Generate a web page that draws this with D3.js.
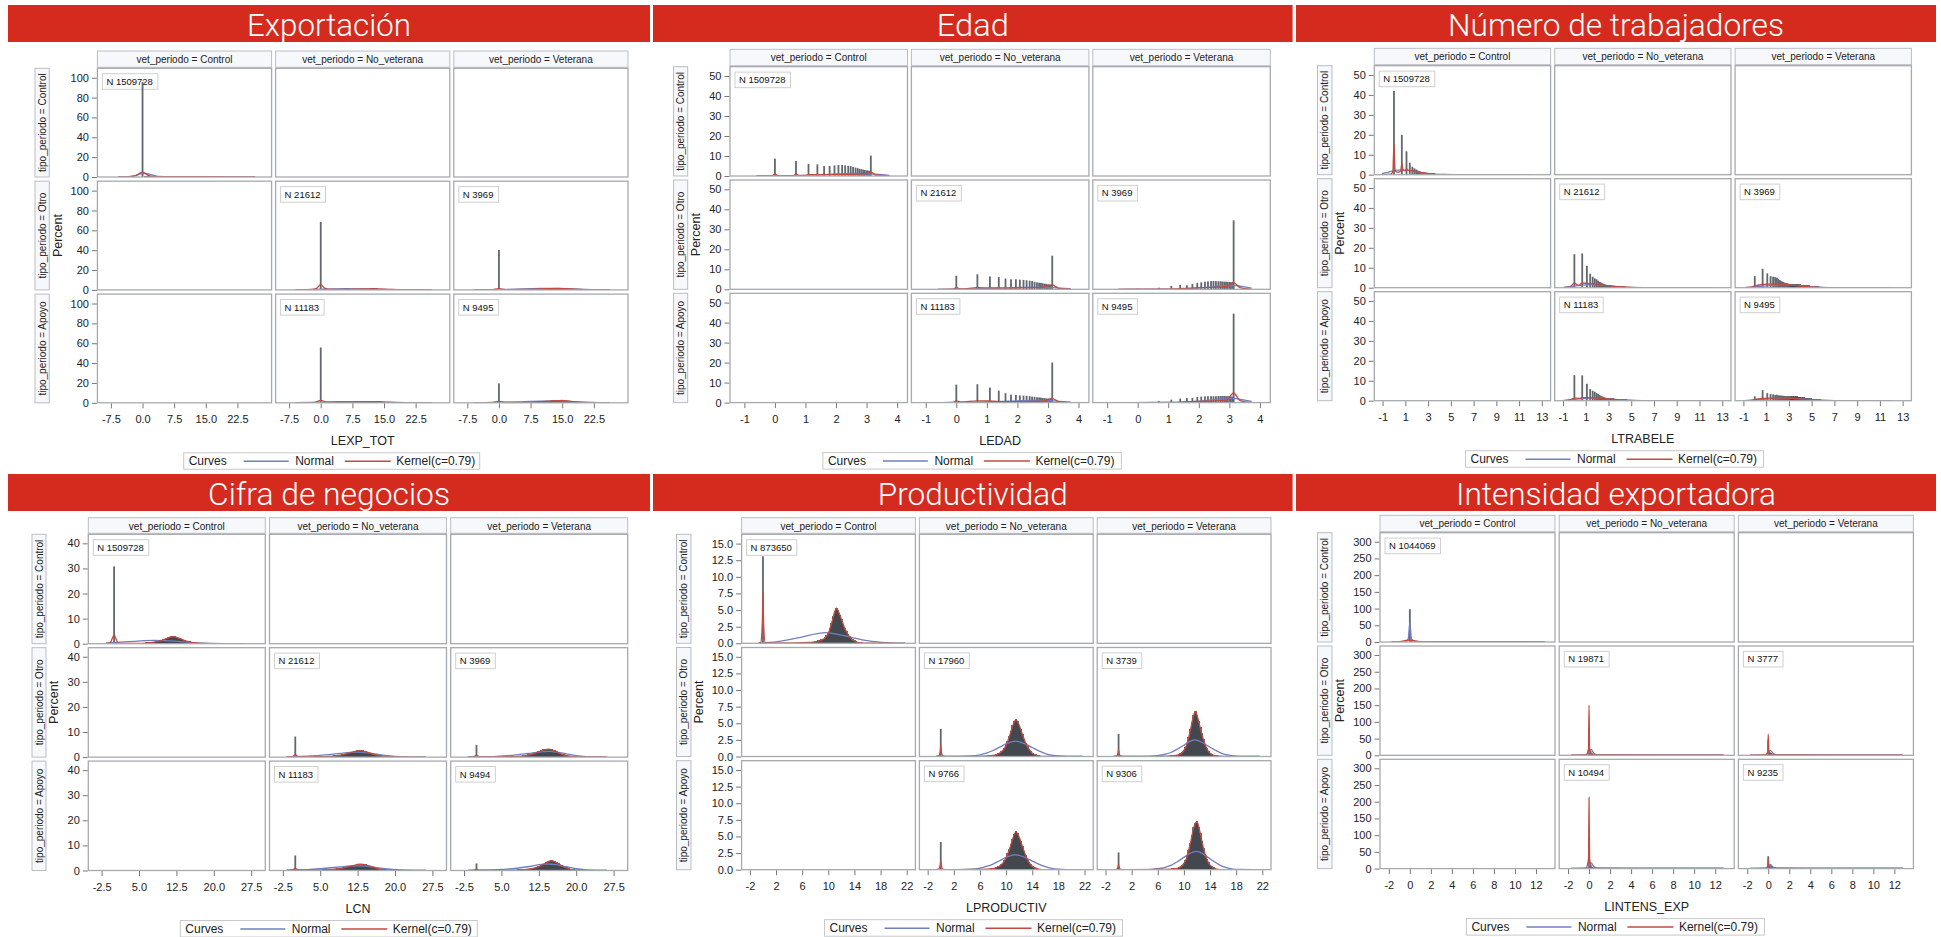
<!DOCTYPE html>
<html><head><meta charset="utf-8">
<script src="https://cdn.jsdelivr.net/npm/d3@7"></script>
<style>
body{margin:0;background:#fff;}
text{font-family:"Liberation Sans",Arial,sans-serif;}
</style>
</head><body>
<svg id="c" width="1941" height="937"></svg>
<script>
// ---------- shared categories ----------
const rowCats = ["Control", "Otro", "Apoyo"];
const colCats = ["Control", "No_veterana", "Veterana"];
const filledCells = [[0,0],[1,1],[1,2],[2,1],[2,2]]; // [row, col]
const legendItems = ["Normal", "Kernel(c=0.79)"];

// ---------- Exportación ----------
const expTitle = "Exportación", expVar = "LEXP_TOT";
const expN = [1509728, 21612, 3969, 11183, 9495];
const expXDomain = [-10.7, 30.6], expYMax = 109.5;
const expXTicks = [-7.5, 0, 7.5, 15, 22.5];
const expYTicks = [0, 20, 40, 60, 80, 100];
const expSpikes = [[[0,95.5]],[[0,68.5]],[[0,40.3]],[[0,55.7]],[[0,19.5]]];
const expBinStart = 1, expBinWidth = 1;
const expBins = [
  [0.4,0.3,0.3,0.2,0.2,0.2,0.2,0.2,0.2,0.2,0.2,0.2,0.1,0.1,0.1],
  [0.5,0.4,0.4,0.4,0.4,0.4,0.5,0.6,0.7,0.8,0.9,1.0,1.0,0.9,0.7,0.5,0.3,0.2,0.1],
  [0.2,0.2,0.2,0.2,0.2,0.3,0.4,0.5,0.7,0.9,1.1,1.3,1.5,1.6,1.4,1.0,0.6,0.3,0.1],
  [0.4,0.4,0.4,0.4,0.4,0.5,0.6,0.7,0.8,0.9,1.0,1.0,1.0,0.9,0.7,0.5,0.3,0.2,0.1],
  [0.2,0.2,0.2,0.3,0.3,0.4,0.5,0.7,0.9,1.1,1.4,1.7,2.0,2.2,2.1,1.6,1.0,0.5,0.2]
];
const expNormal = [
  [[-5.8,0],[-4,0.2],[-2,1.3],[-1,2.5],[0,3.5],[1,3.3],[2,2.4],[3,1.3],[4,0.5],[6,0.05],[10,0],[26.7,0]],
  [[-6,0.05],[-3,0.3],[0,0.7],[3,1.0],[6,1.2],[9,1.1],[12,0.8],[15,0.45],[18,0.2],[21,0.08],[26.3,0.01]],
  [[-6,0.03],[-2,0.2],[2,0.6],[6,1.1],[10,1.4],[13,1.5],[16,1.2],[19,0.7],[22,0.3],[26.2,0.05]],
  [[-6,0.05],[-3,0.3],[0,0.7],[3,1.0],[6,1.2],[9,1.2],[12,0.9],[15,0.5],[18,0.2],[21,0.08],[26.3,0.01]],
  [[-6,0.03],[-2,0.2],[2,0.6],[6,1.1],[10,1.6],[13,1.9],[16,1.6],[19,0.9],[22,0.35],[26.2,0.05]]
];
const expKernel = [
  [[-5.8,0],[-3,0.2],[-1.5,1.5],[0,5.0],[1.5,1.5],[3,0.4],[6,0.3],[10,0.3],[15,0.3],[20,0.2],[26.7,0.1]],
  [[-6,0],[-2,0.4],[-1,1.5],[0,5.3],[1,1.5],[2,0.5],[6,0.5],[10,0.9],[13,1.0],[16,0.6],[20,0.2],[26.3,0.05]],
  [[-6,0],[-1.5,0.3],[0,1.2],[1.5,0.3],[6,0.4],[10,1.0],[14,1.6],[17,0.9],[20,0.3],[26.2,0.05]],
  [[-6,0],[-1.5,0.5],[0,2.5],[1.5,0.6],[5,0.6],[10,0.9],[13,1.1],[16,0.6],[20,0.2],[26.3,0.05]],
  [[-6,0],[-1.5,0.3],[0,1.3],[1.5,0.3],[6,0.4],[10,1.2],[14,2.2],[15,2.4],[17,1.5],[20,0.4],[26.2,0.05]]
];

// ---------- Edad ----------
const edadTitle = "Edad", edadVar = "LEDAD";
const edadN = [1509728, 21612, 3969, 11183, 9495];
const edadXDomain = [-1.47, 4.34], edadYMax = 54.65;
const edadXTicks = [-1, 0, 1, 2, 3, 4];
const edadYTicks = [0, 10, 20, 30, 40, 50];
const edadSpikeX = [0,0.69,1.1,1.39,1.61,1.79,1.95,2.08,2.2,2.3,2.4,2.48,2.56,2.64,2.71,2.77,2.83,2.89,2.94,3.0,3.04,3.09,3.14];
const edadSpikeH = [
  [8.7,7.5,6.1,5.8,5.0,5.0,5.3,5.5,5.5,5.3,5.1,4.9,4.6,4.2,3.9,3.6,3.4,3.2,3.0,2.8,2.7,2.6,10.2],
  [6.8,7.5,6.4,6.1,5.4,5.0,5.0,4.8,4.7,4.5,4.3,4.1,3.8,3.5,3.3,3.2,3.0,2.8,2.7,2.5,2.4,2.3,16.8],
  [0.3,0.8,1.7,2.2,2.0,2.7,3.2,3.5,3.8,4.0,4.1,4.2,4.1,4.0,4.0,3.9,3.8,3.8,3.7,3.7,3.6,3.5,34.5],
  [9.0,9.2,7.5,6.0,4.7,4.0,3.8,3.6,3.5,3.4,3.2,3.0,2.9,2.7,2.6,2.5,2.3,2.2,2.1,2.0,1.9,1.8,20.0],
  [0.2,0.8,1.5,2.0,2.3,2.3,2.8,3.0,3.1,3.2,3.2,3.2,3.2,3.3,3.3,3.3,3.3,3.2,3.2,3.2,3.1,3.0,44.5]
];
const edadNormal = [
  [[-0.6,0],[0.5,0.1],[1,0.3],[1.5,0.6],[2,1.0],[2.5,1.3],[3,1.2],[3.3,0.9],[3.75,0.3]],
  [[-0.6,0],[0.5,0.15],[1,0.35],[1.5,0.6],[2,0.9],[2.5,1.1],[3,1.0],[3.4,0.6],[3.75,0.2]],
  [[-0.64,0],[1,0.05],[1.5,0.2],[2,0.6],[2.5,1.3],[3,1.9],[3.2,1.9],[3.5,1.2],[3.73,0.6]],
  [[-0.6,0],[0.5,0.15],[1,0.35],[1.5,0.6],[2,0.9],[2.5,1.1],[3,1.0],[3.4,0.6],[3.75,0.2]],
  [[-0.64,0],[1,0.05],[1.5,0.2],[2,0.7],[2.5,1.5],[3,2.1],[3.2,2.0],[3.5,1.2],[3.73,0.6]]
];
const edadKernel = [
  [[-0.6,0],[-0.1,0.1],[0,1.0],[0.1,0.2],[0.6,0.2],[0.69,0.9],[0.8,0.3],[1.0,0.3],[1.1,0.7],[1.4,0.6],[2,0.7],[2.5,0.8],[3.0,1.3],[3.14,2.0],[3.3,0.5],[3.75,0]],
  [[-0.6,0],[-0.1,0.1],[0,0.8],[0.15,0.2],[0.69,0.8],[1.1,0.7],[1.6,0.6],[2.2,0.7],[2.8,1.0],[3.14,2.2],[3.35,0.5],[3.75,0]],
  [[-0.64,0],[1,0.1],[1.5,0.4],[2,0.8],[2.5,1.0],[2.9,1.4],[3.14,3.3],[3.35,0.8],[3.73,0]],
  [[-0.6,0],[-0.1,0.1],[0,0.9],[0.15,0.3],[0.69,0.9],[1.1,0.8],[1.6,0.5],[2.2,0.5],[2.8,0.7],[3.14,2.0],[3.35,0.5],[3.75,0]],
  [[-0.64,0],[1,0.1],[1.5,0.3],[2,0.6],[2.5,0.8],[2.9,1.2],[3.14,4.8],[3.35,1.0],[3.73,0]]
];

// ---------- Número de trabajadores ----------
const numTitle = "Número de trabajadores", numVar = "LTRABELE";
const numN = [1509728, 21612, 3969, 11183, 9495];
const numXDomain = [-1.73, 13.77], numYMax = 54.65;
const numXTicks = [-1, 1, 3, 5, 7, 9, 11, 13];
const numYTicks = [0, 10, 20, 30, 40, 50];
const numSpikeX = [0,0.69,1.1,1.39,1.61,1.79,1.95,2.08,2.2,2.3,2.4,2.48,2.56,2.64,2.71,2.77,2.83,2.89,2.94,3.0];
const numSpikeH = [
  [42,20,11.7,6.0,4.0,3.2,2.6,2.1,1.8,1.6,1.4,1.2,1.1,1.0,0.9,0.8,0.7,0.65,0.6,0.55],
  [16.8,17.2,11.0,7.0,5.5,4.7,4.2,3.5,3.0,2.7,2.3,2.1,1.9,1.7,1.5,1.4,1.3,1.2,1.1,1.0],
  [5.8,9.5,7.2,5.8,5.5,5.3,5.0,4.3,3.8,3.4,3.0,2.8,2.6,2.4,2.3,2.2,2.1,2.0,2.0,1.9],
  [12.8,12.7,8.5,5.8,5.0,4.5,3.8,3.3,2.8,2.5,2.2,2.0,1.8,1.6,1.5,1.4,1.3,1.2,1.1,1.1],
  [2.2,5.3,3.8,3.3,3.2,2.8,3.0,2.7,2.6,2.5,2.5,2.4,2.4,2.3,2.3,2.2,2.2,2.2,2.2,2.2]
];
const numBinStart = 3.1, numBinWidth = 0.2;
const numBins = [
  [0.5,0.45,0.4,0.35,0.3,0.25,0.2,0.17,0.14,0.12,0.1,0.08,0.06,0.05,0.04],
  [0.9,0.8,0.7,0.6,0.5,0.45,0.4,0.3,0.25,0.2,0.15,0.12,0.1,0.08,0.05],
  [1.8,1.7,1.6,1.5,1.4,1.3,1.2,1.0,0.9,0.7,0.6,0.5,0.4,0.3,0.2,0.15,0.1],
  [1.0,0.9,0.8,0.7,0.6,0.5,0.45,0.4,0.3,0.25,0.2,0.15,0.1,0.08,0.05],
  [2.1,2.1,2.0,1.9,1.8,1.6,1.5,1.3,1.1,0.9,0.8,0.6,0.5,0.4,0.3,0.2,0.15,0.1,0.05]
];
const numNormal = [
  [[-1.05,0.5],[-0.5,1.3],[0,2.0],[0.7,2.4],[1.3,2.2],[2,1.4],[2.7,0.7],[3.5,0.2],[4.5,0.03],[6,0],[12.1,0]],
  [[-0.93,0.2],[0,0.8],[0.7,1.3],[1.5,1.6],[2.3,1.4],[3,1.0],[4,0.45],[5,0.15],[6,0.04],[8,0],[12.16,0]],
  [[-0.89,0.05],[0,0.4],[1,0.9],[2,1.4],[2.5,1.5],[3,1.4],[4,1.0],[5,0.5],[6,0.2],[7,0.06],[9,0],[12.13,0]],
  [[-0.93,0.2],[0,0.7],[0.8,1.1],[1.6,1.3],[2.4,1.2],[3.2,0.9],[4,0.5],[5,0.2],[6,0.05],[8,0],[12.16,0]],
  [[-0.89,0.05],[0,0.35],[1,0.8],[2,1.2],[2.7,1.3],[3.5,1.2],[4.5,0.8],[5.5,0.4],[6.5,0.15],[7.5,0.04],[9,0],[12.13,0]]
];
const numKernel = [
  [[-1.05,0],[-0.3,0.3],[-0.1,1.5],[0,15.7],[0.1,1.8],[0.35,1.2],[0.6,2.0],[0.69,5.7],[0.8,2.2],[1.0,2.0],[1.1,3.0],[1.25,2.2],[1.6,2.0],[2.0,1.6],[2.5,1.0],[3,0.6],[3.5,0.3],[4.5,0.1],[6,0.02],[12.1,0]],
  [[-0.93,0],[-0.4,0.3],[0,2.3],[0.35,1.2],[0.69,2.3],[1.1,2.2],[1.6,2.0],[2.2,1.6],[3,1.0],[4,0.4],[5,0.1],[6,0.02],[12.16,0]],
  [[-0.89,0],[-0.3,0.3],[0,0.9],[0.69,1.6],[1.2,1.8],[2,1.8],[2.8,1.5],[3.4,1.2],[4.2,0.7],[5,0.3],[6,0.08],[12.13,0]],
  [[-0.93,0],[-0.4,0.3],[0,1.3],[0.4,1.2],[0.69,1.5],[1.2,1.5],[2,1.3],[3,0.9],[4,0.4],[5,0.1],[6,0.02],[12.16,0]],
  [[-0.89,0],[-0.3,0.2],[0,0.6],[0.69,1.1],[1.5,1.3],[2.5,1.3],[3.5,1.1],[4.5,0.6],[5.5,0.2],[6.5,0.05],[12.13,0]]
];

// ---------- Cifra de negocios ----------
const cifTitle = "Cifra de negocios", cifVar = "LCN";
const cifN = [1509728, 21612, 3969, 11183, 9494];
const cifXDomain = [-5.17, 30.33], cifYMax = 43.6;
const cifXTicks = [-2.5, 5, 12.5, 20, 27.5];
const cifYTicks = [0, 10, 20, 30, 40];
const cifSpikes = [[[0,30.8]],[[0,8.2]],[[0,4.8]],[[0,6.0]],[[0,2.8]]];
const cifBinStart = 4, cifBinWidth = 0.5;
const cifBins = [
  [0.15,0.17,0.2,0.22,0.25,0.3,0.35,0.45,0.6,0.8,1.0,1.3,1.6,2.0,2.4,2.7,2.8,2.6,2.2,1.8,1.4,1.0,0.7,0.5,0.35,0.25,0.17,0.12,0.08,0.05,0.03,0.02],
  [0.1,0.12,0.15,0.18,0.22,0.28,0.35,0.42,0.5,0.62,0.8,1.0,1.2,1.45,1.7,2.0,2.3,2.5,2.6,2.5,2.3,1.9,1.6,1.2,0.9,0.65,0.45,0.3,0.2,0.12,0.07,0.04],
  [0.05,0.06,0.08,0.1,0.12,0.14,0.16,0.18,0.2,0.3,0.4,0.55,0.7,0.9,1.1,1.4,1.7,2.1,2.5,2.9,3.1,3.2,3.0,2.7,2.2,1.7,1.2,0.85,0.6,0.4,0.25,0.15],
  [0.1,0.12,0.15,0.18,0.2,0.25,0.3,0.4,0.5,0.62,0.8,0.95,1.1,1.35,1.6,1.9,2.1,2.35,2.5,2.45,2.3,2.0,1.7,1.3,1.0,0.7,0.5,0.3,0.2,0.12,0.07,0.04],
  [0.05,0.05,0.06,0.07,0.08,0.1,0.12,0.14,0.16,0.2,0.25,0.3,0.4,0.55,0.7,0.95,1.2,1.6,2.0,2.5,3.0,3.6,3.9,3.6,3.2,2.6,2.0,1.5,1.0,0.65,0.4,0.2]
];
const cifNormal = [
  [[-1.68,0.3],[0,0.45],[2,0.7],[4,0.95],[6,1.2],[8,1.3],[10,1.25],[12,1.05],[14,0.75],[16,0.45],[18,0.22],[20,0.09],[22,0.03],[26.25,0]],
  [[-1.76,0.1],[0,0.2],[3,0.45],[6,0.9],[9,1.5],[11,1.85],[12.5,1.95],[14,1.8],[16,1.3],[18,0.7],[20,0.3],[22,0.1],[26.2,0.01]],
  [[-1.76,0.05],[0,0.1],[4,0.3],[8,0.9],[11,1.6],[13,2.1],[14.5,2.25],[16,2.0],[18,1.3],[20,0.6],[22,0.2],[24,0.05],[26.2,0.01]],
  [[-1.76,0.1],[0,0.2],[3,0.45],[6,0.9],[9,1.45],[11,1.8],[12.5,1.9],[14,1.75],[16,1.25],[18,0.7],[20,0.3],[22,0.1],[26.2,0.01]],
  [[-1.76,0.05],[0,0.1],[4,0.3],[8,0.9],[11,1.7],[13,2.4],[14.5,2.6],[16,2.3],[18,1.5],[20,0.7],[22,0.25],[24,0.06],[26.2,0.01]]
];
const cifKernel = [
  [[-1.68,0],[-0.8,0.3],[0,3.4],[0.8,0.3],[1.5,0.15],[4,0.15],[7,0.35],[9,1.0],[10.5,2.0],[11.7,2.8],[13,2.2],[14.5,1.0],[16,0.35],[18,0.08],[20,0.02],[26.25,0]],
  [[-1.76,0],[-0.6,0.2],[0,1.0],[0.6,0.2],[2,0.1],[6,0.22],[9,0.8],[11,1.7],[13,2.6],[15,1.6],[17,0.45],[19,0.07],[21,0.01],[26.2,0]],
  [[-1.76,0],[-0.6,0.15],[0,0.7],[0.6,0.15],[4,0.05],[8,0.2],[11,1.1],[13,2.5],[14.5,3.2],[16,2.2],[17.5,0.85],[19,0.25],[21,0.03],[26.2,0]],
  [[-1.76,0],[-0.6,0.2],[0,0.8],[0.6,0.2],[2,0.1],[6,0.2],[9,0.8],[11,1.6],[13,2.5],[15,1.7],[17,0.5],[19,0.07],[21,0.01],[26.2,0]],
  [[-1.76,0],[-0.6,0.1],[0,0.5],[0.6,0.1],[4,0.05],[8,0.16],[11,0.7],[13,2.0],[15,3.9],[16.5,2.6],[18,1.0],[19.5,0.2],[21,0.03],[26.2,0]]
];

// ---------- Productividad ----------
const prodTitle = "Productividad", prodVar = "LPRODUCTIV";
const prodN = [873650, 17960, 3739, 9766, 9306];
const prodXDomain = [-3.27, 23.33], prodYMax = 16.4;
const prodXTicks = [-2, 2, 6, 10, 14, 18, 22];
const prodYTicks = [0, 2.5, 5, 7.5, 10, 12.5, 15];
const prodSpikes = [[[0,13.1]],[[0,4.15]],[[0,3.4]],[[0,4.15]],[[0,2.6]]];
const prodBinStart = 7, prodBinWidth = 0.25;
const prodBins = [
  [0.08,0.1,0.12,0.16,0.2,0.27,0.35,0.42,0.5,0.62,0.8,1.1,1.5,2.2,3.0,4.0,4.8,5.3,4.9,4.2,3.6,2.9,2.3,1.8,1.3,1.0,0.7,0.5,0.35,0.25,0.15,0.1,0.07],
  [0.05,0.07,0.09,0.12,0.15,0.22,0.3,0.4,0.5,0.7,0.9,1.25,1.7,2.3,3.0,3.8,4.6,5.2,5.5,5.2,4.7,4.0,3.3,2.6,2.0,1.5,1.1,0.75,0.5,0.35,0.25,0.15,0.1],
  [0.03,0.04,0.05,0.07,0.09,0.12,0.15,0.18,0.2,0.3,0.4,0.6,0.9,1.4,2.0,2.9,4.0,5.1,6.2,6.8,6.2,5.3,4.3,3.4,2.5,1.8,1.2,0.8,0.5,0.33,0.2,0.12,0.08],
  [0.05,0.07,0.09,0.12,0.15,0.22,0.3,0.42,0.55,0.75,1.0,1.35,1.8,2.4,3.0,3.8,4.6,5.3,5.7,5.4,4.9,4.2,3.5,2.8,2.1,1.6,1.1,0.75,0.5,0.35,0.25,0.15,0.1],
  [0.03,0.04,0.05,0.07,0.09,0.12,0.15,0.18,0.2,0.3,0.4,0.6,0.9,1.4,2.0,2.9,4.0,5.1,6.3,7.0,7.2,6.4,5.5,4.3,3.2,2.3,1.6,1.1,0.7,0.45,0.3,0.18,0.1]
];
const prodNormal = [
  [[-0.67,0.03],[1,0.12],[2.5,0.3],[4,0.55],[5.5,0.85],[7,1.2],[8.3,1.45],[9.6,1.6],[10.9,1.45],[12.2,1.2],[13.7,0.85],[15.2,0.52],[16.7,0.28],[18.2,0.12],[20,0.04],[21.75,0.01]],
  [[-0.74,0],[3,0.02],[4.7,0.08],[6,0.25],[7,0.5],[8,0.9],[9,1.4],[10,1.9],[11,2.25],[11.5,2.3],[12,2.2],[13,1.85],[14,1.35],[15,0.85],[16,0.45],[17,0.2],[18,0.08],[19.2,0.02],[21.7,0]],
  [[-0.8,0],[4,0.02],[5,0.06],[6,0.14],[7,0.3],[8,0.6],[9,1.1],[10,1.7],[11,2.3],[11.6,2.5],[12.2,2.4],[13,2.0],[14,1.4],[15,0.85],[16,0.4],[17,0.18],[18,0.06],[19,0.02],[21.6,0]],
  [[-0.74,0],[3,0.02],[4.7,0.08],[6,0.25],[7,0.5],[8,0.85],[9,1.35],[10,1.85],[11,2.2],[11.3,2.25],[12,2.15],[13,1.8],[14,1.3],[15,0.85],[16,0.45],[17,0.2],[18,0.08],[19.2,0.02],[21.7,0]],
  [[-0.8,0],[4,0.02],[5,0.06],[6,0.15],[7,0.33],[8,0.65],[9,1.2],[10,1.85],[11,2.5],[11.8,2.75],[12.5,2.6],[13.5,2.0],[14.5,1.3],[15.5,0.7],[16.5,0.3],[17.5,0.1],[18.5,0.03],[21.6,0]]
];
const prodKernel = [
  [[-0.67,0],[-0.35,0.1],[-0.1,3.0],[0,7.7],[0.1,3.0],[0.35,0.1],[1,0.02],[5,0.05],[7,0.12],[8,0.2],[9,0.5],[9.5,0.8],[10,1.5],[10.5,3.0],[11,4.8],[11.25,5.3],[11.5,4.9],[12,3.6],[12.5,2.3],[13,1.3],[13.5,0.7],[14,0.35],[15,0.07],[16,0.02],[21.75,0]],
  [[-0.74,0],[-0.3,0.1],[-0.08,0.8],[0,1.6],[0.08,0.8],[0.3,0.1],[1,0],[6,0.03],[8,0.15],[9,0.5],[9.5,0.9],[10,1.7],[10.5,3.0],[11,4.6],[11.5,5.5],[12,4.7],[12.5,3.3],[13,2.0],[13.5,1.1],[14,0.5],[15,0.1],[16,0.02],[21.7,0]],
  [[-0.8,0],[-0.3,0.08],[-0.08,0.5],[0,1.0],[0.08,0.5],[0.3,0.08],[1,0],[7,0.03],[9,0.2],[10,0.9],[10.5,2.0],[11,4.0],[11.5,6.2],[11.75,6.8],[12,6.2],[12.5,4.3],[13,2.5],[13.5,1.2],[14,0.5],[15,0.08],[16,0.01],[21.6,0]],
  [[-0.74,0],[-0.3,0.1],[-0.08,0.7],[0,1.3],[0.08,0.7],[0.3,0.1],[1,0],[6,0.03],[8,0.15],[9,0.55],[9.5,1.0],[10,1.8],[10.5,3.0],[11,4.6],[11.5,5.7],[12,4.9],[12.5,3.5],[13,2.1],[13.5,1.1],[14,0.5],[15,0.1],[16,0.02],[21.7,0]],
  [[-0.8,0],[-0.3,0.06],[-0.08,0.4],[0,0.8],[0.08,0.4],[0.3,0.06],[1,0],[7,0.03],[9,0.2],[10,0.9],[10.5,2.0],[11,4.0],[11.5,6.3],[12,7.2],[12.5,5.5],[13,3.2],[13.5,1.6],[14,0.7],[15,0.1],[16,0.01],[21.6,0]]
];

// ---------- Intensidad exportadora ----------
const intenTitle = "Intensidad exportadora", intenVar = "LINTENS_EXP";
const intenN = [1044069, 19871, 3777, 10494, 9235];
const intenXDomain = [-2.84, 13.81], intenYMax = 327;
const intenXTicks = [-2, 0, 2, 4, 6, 8, 10, 12];
const intenYTicks = [0, 50, 100, 150, 200, 250, 300];
const intenSpikes = [
  [[0,98],[0.15,4]],
  [[0,80],[0.15,12],[0.3,6],[0.45,3]],
  [[0,45],[0.15,10],[0.3,7],[0.45,4],[0.6,2]],
  [[0,80],[0.15,10],[0.3,5]],
  [[0,37],[0.15,12],[0.3,8],[0.45,5],[0.6,3]]
];
const intenNormal = [
  [[-1.73,0],[-0.4,0.5],[-0.15,10],[0,57],[0.15,10],[0.4,0.5],[1,0],[12.83,0]],
  [[-1.7,0.5],[-0.2,0.8],[0,8],[0.2,18],[0.45,6],[0.8,1.5],[2,1.0],[6,1.0],[12.8,1.0]],
  [[-1.7,0.5],[-0.2,0.8],[0,8],[0.2,15],[0.45,6],[0.8,1.5],[2,1.0],[6,1.0],[12.8,1.0]],
  [[-1.7,0.5],[-0.2,0.8],[0,8],[0.2,17],[0.45,6],[0.8,1.5],[2,1.0],[6,1.0],[12.8,1.0]],
  [[-1.7,0.5],[-0.2,0.8],[0,6],[0.2,12],[0.45,5],[0.8,1.5],[2,1.0],[6,1.0],[12.8,1.0]]
];
const intenKernel = [
  [[-1.73,0],[-1,1],[0,6],[1,1],[2,0.3],[12.83,0.2]],
  [[-1.7,0.5],[-0.3,1],[-0.05,20],[0,150],[0.05,20],[0.3,2],[1,1],[6,0.8],[12.8,0.5]],
  [[-1.7,0.5],[-0.3,1],[-0.05,10],[0,63],[0.05,10],[0.3,2],[1,1],[6,0.8],[12.8,0.5]],
  [[-1.7,0.5],[-0.3,1],[-0.05,30],[0,213],[0.05,30],[0.3,2],[1,1],[6,0.8],[12.8,0.5]],
  [[-1.7,0.5],[-0.3,1],[-0.05,6],[0,30],[0.05,6],[0.3,2],[1,1],[6,0.8],[12.8,0.5]]
];

// ---------- layout (positions / sizes only) ----------
const layouts = [
  {bx0:8,   bx1:650,  by0:5,   by1:42,  tw:164, gx:97.4,   cw:174.2, cg:4,   sy:51,    ry:68.3,  rh:108.7, rg:4.2, rsx:35,     rsw:14.3, px:58,     lx:183.7,  lw:296},
  {bx0:653, bx1:1292.6, by0:5, by1:42,  tw:72,  gx:730,    cw:177.5, cg:3.9, sy:49.3,  ry:66.7,  rh:109.3, rg:4,   rsx:673.6,  rsw:14.1, px:695.6,  lx:822.9,  lw:298.5},
  {bx0:1296,bx1:1936, by0:5,   by1:42,  tw:336, gx:1374.3, cw:176.3, cg:4.1, sy:48.3,  ry:65.7,  rh:109,   rg:4,   rsx:1317.5, rsw:14.5, px:1339.5, lx:1465.5, lw:298},
  {bx0:8,   bx1:650,  by0:474, by1:511, tw:242, gx:88.3,   cw:177,   cg:4.2, sy:517.7, ry:534.3, rh:109.4, rg:4,   rsx:32,     rsw:14,   px:54,     lx:180.3,  lw:297},
  {bx0:653, bx1:1292.6, by0:474, by1:511, tw:190, gx:741.6, cw:173.8, cg:4,  sy:517.7, ry:534.3, rh:109,   rg:4.2, rsx:676.5,  rsw:14.5, px:698.5,  lx:824.5,  lw:298},
  {bx0:1296,bx1:1936, by0:474, by1:511, tw:320, gx:1380,   cw:175,   cg:4.2, sy:515.3, ry:532.7, rh:109.3, rg:4,   rsx:1317.5, rsw:14.5, px:1339.5, lx:1466.4, lw:298}
];

const f1 = d => d.toFixed(1);
const f0 = d => String(d);
function zipSpikes(xs, hs){ return hs.map(row => row.map((h,i) => [xs[i], h])); }

const panels = [
  {title:expTitle, v:expVar, N:expN, xd:expXDomain, ym:expYMax, xt:expXTicks, yt:expYTicks, fx:f1, fy:f0,
   spikes:expSpikes, bs:expBinStart, bw:expBinWidth, bins:expBins, normal:expNormal, kernel:expKernel},
  {title:edadTitle, v:edadVar, N:edadN, xd:edadXDomain, ym:edadYMax, xt:edadXTicks, yt:edadYTicks, fx:f0, fy:f0,
   spikes:zipSpikes(edadSpikeX, edadSpikeH), bs:0, bw:0, bins:null, normal:edadNormal, kernel:edadKernel},
  {title:numTitle, v:numVar, N:numN, xd:numXDomain, ym:numYMax, xt:numXTicks, yt:numYTicks, fx:f0, fy:f0,
   spikes:zipSpikes(numSpikeX, numSpikeH), bs:numBinStart, bw:numBinWidth, bins:numBins, normal:numNormal, kernel:numKernel},
  {title:cifTitle, v:cifVar, N:cifN, xd:cifXDomain, ym:cifYMax, xt:cifXTicks, yt:cifYTicks, fx:f1, fy:f0,
   spikes:cifSpikes, bs:cifBinStart, bw:cifBinWidth, bins:cifBins, normal:cifNormal, kernel:cifKernel},
  {title:prodTitle, v:prodVar, N:prodN, xd:prodXDomain, ym:prodYMax, xt:prodXTicks, yt:prodYTicks, fx:f0, fy:f1,
   spikes:prodSpikes, bs:prodBinStart, bw:prodBinWidth, bins:prodBins, normal:prodNormal, kernel:prodKernel},
  {title:intenTitle, v:intenVar, N:intenN, xd:intenXDomain, ym:intenYMax, xt:intenXTicks, yt:intenYTicks, fx:f0, fy:f0,
   spikes:intenSpikes, bs:0, bw:0, bins:null, normal:intenNormal, kernel:intenKernel}
];

const COL = {banner:"#d52b1e", strip:"#f7f8fc", stripLine:"#b9bdc3", cellLine:"#a6aaaf",
  bar:"#43484f", spike:"#62676e", normal:"#6f7fc2", kernel:"#c24a3f", text:"#222", tick:"#777"};

const svg = d3.select("#c");
const defs = svg.append("defs");

panels.forEach((p, pi) => {
  const L = layouts[pi];
  const g = svg.append("g");
  const colLeft = c => L.gx + c*(L.cw + L.cg);
  const rowTop = r => L.ry + r*(L.rh + L.rg);
  const gridRight = colLeft(2) + L.cw;
  const gridBottom = rowTop(2) + L.rh;

  // banner
  g.append("rect").attr("x", L.bx0).attr("y", L.by0).attr("width", L.bx1 - L.bx0)
    .attr("height", L.by1 - L.by0).attr("fill", COL.banner);
  g.append("text").attr("x", (L.bx0 + L.bx1)/2).attr("y", L.by0 + 31)
    .attr("text-anchor", "middle").attr("fill", "#fff")
    .style("font-family", "Roboto, 'Liberation Sans', sans-serif").style("font-weight", 300)
    .style("font-size", "32px").attr("textLength", L.tw).attr("lengthAdjust", "spacingAndGlyphs")
    .text(p.title);

  // column strips
  colCats.forEach((cn, c) => {
    g.append("rect").attr("x", colLeft(c)).attr("y", L.sy).attr("width", L.cw)
      .attr("height", L.ry - L.sy - 1).attr("fill", COL.strip).attr("stroke", COL.stripLine).attr("stroke-width", 1);
    g.append("text").attr("x", colLeft(c) + L.cw/2).attr("y", L.sy + 11.8)
      .attr("text-anchor", "middle").attr("fill", COL.text).style("font-size", "10px")
      .text("vet_periodo = " + cn);
  });
  // row strips
  rowCats.forEach((rn, r) => {
    g.append("rect").attr("x", L.rsx).attr("y", rowTop(r)).attr("width", L.rsw)
      .attr("height", L.rh).attr("fill", COL.strip).attr("stroke", COL.stripLine).attr("stroke-width", 1);
    g.append("text").attr("transform", `translate(${L.rsx + L.rsw/2 + 3.6},${rowTop(r) + L.rh/2}) rotate(-90)`)
      .attr("text-anchor", "middle").attr("fill", COL.text).style("font-size", "10px")
      .text("tipo_periodo = " + rn);
  });

  const xs = [0,1,2].map(c => d3.scaleLinear().domain(p.xd).range([colLeft(c), colLeft(c) + L.cw]));
  const ys = [0,1,2].map(r => d3.scaleLinear().domain([0, p.ym]).range([rowTop(r) + L.rh, rowTop(r)]));

  // cells
  for (let r = 0; r < 3; r++) for (let c = 0; c < 3; c++) {
    g.append("rect").attr("x", colLeft(c)).attr("y", rowTop(r)).attr("width", L.cw).attr("height", L.rh)
      .attr("fill", "#fff");
  }

  // y axes
  ys.forEach((y, r) => {
    const ax = g.append("g").attr("transform", `translate(${L.gx - 0.5},0)`)
      .call(d3.axisLeft(y).tickValues(p.yt).tickFormat(p.fy).tickSize(5).tickPadding(3));
    ax.select(".domain").remove();
    ax.selectAll("line").attr("stroke", COL.tick);
    ax.selectAll("text").attr("fill", COL.text).style("font-size", "11px")
      .style("font-family", "'Liberation Sans', Arial, sans-serif");
  });
  // x axes
  xs.forEach((x, c) => {
    const ax = g.append("g").attr("transform", `translate(0,${gridBottom + 0.5})`)
      .call(d3.axisBottom(x).tickValues(p.xt).tickFormat(p.fx).tickSize(5).tickPadding(7));
    ax.select(".domain").remove();
    ax.selectAll("line").attr("stroke", COL.tick);
    ax.selectAll("text").attr("fill", COL.text).style("font-size", "11px")
      .style("font-family", "'Liberation Sans', Arial, sans-serif");
  });

  // data
  filledCells.forEach(([r, c], k) => {
    const x = xs[c], y = ys[r];

    // N inset (drawn below the marks, as in the original)
    const lg = g.append("g").attr("transform", `translate(${colLeft(c) + 5},${rowTop(r) + 5.4})`);
    const box = lg.append("rect").attr("height", 15.6).attr("fill", "#fff")
      .attr("stroke", "#cfcfcf").attr("stroke-width", 1);
    const t = lg.append("text").attr("x", 4).attr("y", 11).attr("fill", "#111")
      .style("font-size", "9.5px").text("N " + p.N[k]);
    box.attr("width", t.node().getComputedTextLength() + 9);

    const id = `clip-${pi}-${r}-${c}`;
    defs.append("clipPath").attr("id", id).append("rect")
      .attr("x", colLeft(c)).attr("y", rowTop(r)).attr("width", L.cw).attr("height", L.rh);
    const cg = g.append("g").attr("clip-path", `url(#${id})`);

    if (p.bins) {
      cg.selectAll("rect.bin").data(p.bins[k]).join("rect").attr("class", "bin")
        .attr("x", (d, i) => x(p.bs + i*p.bw - p.bw/2))
        .attr("width", (d, i) => x(p.bs + i*p.bw + p.bw/2) - x(p.bs + i*p.bw - p.bw/2))
        .attr("y", d => y(d)).attr("height", d => y(0) - y(d))
        .attr("fill", COL.bar).attr("stroke", COL.bar).attr("stroke-width", 0.8)
        .attr("shape-rendering", "crispEdges");
    }
    cg.selectAll("rect.spike").data(p.spikes[k]).join("rect").attr("class", "spike")
      .attr("x", d => x(d[0]) - 0.9).attr("width", 1.8)
      .attr("y", d => y(d[1])).attr("height", d => y(0) - y(d[1]))
      .attr("fill", COL.spike);

    const line = d3.line().x(d => x(d[0])).y(d => y(d[1])).curve(d3.curveMonotoneX);
    cg.append("path").attr("d", line(p.normal[k])).attr("fill", "none")
      .attr("stroke", COL.normal).attr("stroke-width", 1.3);
    cg.append("path").attr("d", line(p.kernel[k])).attr("fill", "none")
      .attr("stroke", COL.kernel).attr("stroke-width", 1.3);
  });

  // cell borders
  for (let r = 0; r < 3; r++) for (let c = 0; c < 3; c++) {
    g.append("rect").attr("x", colLeft(c)).attr("y", rowTop(r)).attr("width", L.cw).attr("height", L.rh)
      .attr("fill", "none").attr("stroke", COL.cellLine).attr("stroke-width", 1.3);
  }

  // Percent label
  g.append("text").attr("transform", `translate(${L.px + 4},${rowTop(1) + L.rh/2}) rotate(-90)`)
    .attr("text-anchor", "middle").attr("fill", COL.text).style("font-size", "12.5px").text("Percent");
  // x label
  g.append("text").attr("x", (L.gx + gridRight)/2).attr("y", gridBottom + 42.5)
    .attr("text-anchor", "middle").attr("fill", COL.text).style("font-size", "12.5px").text(p.v);

  // legend
  const ly = gridBottom + 50;
  const lgd = g.append("g").attr("transform", `translate(${L.lx},${ly})`);
  lgd.append("rect").attr("width", L.lw).attr("height", 16.5).attr("fill", "#fff")
    .attr("stroke", "#c8c8c8").attr("stroke-width", 1);
  lgd.append("text").attr("x", 5).attr("y", 12.6).attr("fill", COL.text).style("font-size", "12px").text("Curves");
  lgd.append("line").attr("x1", 60).attr("x2", 105).attr("y1", 8.5).attr("y2", 8.5)
    .attr("stroke", COL.normal).attr("stroke-width", 1.5);
  lgd.append("text").attr("x", 111.5).attr("y", 12.6).attr("fill", COL.text).style("font-size", "12px").text(legendItems[0]);
  lgd.append("line").attr("x1", 161).attr("x2", 207).attr("y1", 8.5).attr("y2", 8.5)
    .attr("stroke", COL.kernel).attr("stroke-width", 1.5);
  lgd.append("text").attr("x", 212.5).attr("y", 12.6).attr("fill", COL.text).style("font-size", "12px").text(legendItems[1]);
});
</script>
</body></html>
